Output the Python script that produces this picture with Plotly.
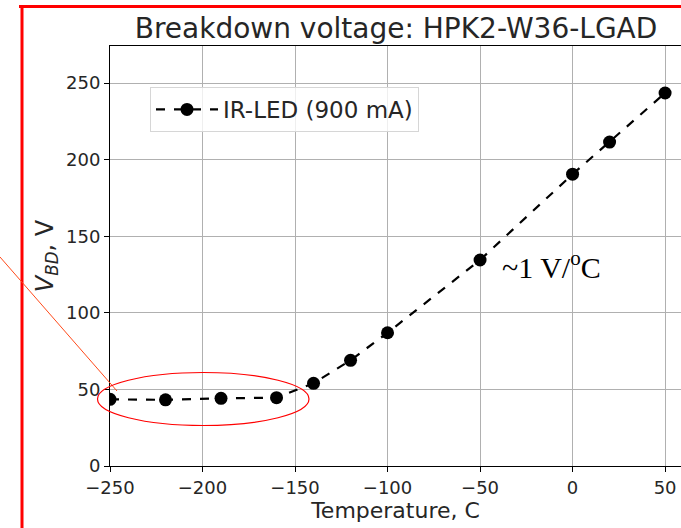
import plotly.graph_objects as go

temperature = [-250, -220, -190, -160, -140, -120, -100, -50, 0, 20, 50]
vbd = [43.5, 43.2, 44.2, 44.6, 54.0, 69.0, 87.0, 134.5, 190.5, 211.5, 243.5]
series_name = "IR-LED (900 mA)"
x_ticks = [-250, -200, -150, -100, -50, 0, 50]
y_ticks = [0, 50, 100, 150, 200, 250]

W, H = 681, 528
L, R, T, B = 110, 0, 46, 62
pw, ph = W - L - R, H - T - B

def px(x):
    return (x - L) / pw

def py(y):
    return (H - B - y) / ph

fig = go.Figure()
fig.add_trace(go.Scatter(
    x=temperature, y=vbd, mode="lines+markers", name=series_name,
    line=dict(color="black", width=2.2, dash="dash"),
    marker=dict(color="black", size=13),
))

font = "DejaVu Sans, Arial, sans-serif"
fig.update_layout(
    width=W, height=H,
    margin=dict(l=L, r=R, t=T, b=B),
    paper_bgcolor="white", plot_bgcolor="white",
    font=dict(family=font, color="#262626", size=18),
    title=dict(text="Breakdown voltage: HPK2-W36-LGAD", x=396 / W, xanchor="center",
               y=1 - 28 / H, yanchor="middle", font=dict(size=28, color="#262626")),
    showlegend=True,
    legend=dict(x=px(150), y=py(87), xanchor="left", yanchor="top",
                bgcolor="rgba(255,255,255,0.8)", bordercolor="#d6d6d6", borderwidth=1,
                font=dict(size=23), itemwidth=62),
    xaxis=dict(range=[-250, 58.6], tickvals=x_ticks, ticktext=[("\u2212" + str(-v)) if v < 0 else str(v) for v in x_ticks],
               showgrid=True, gridcolor="#b0b0b0", gridwidth=1,
               showline=True, linecolor="black", linewidth=1, mirror=True,
               ticks="outside", ticklen=5, tickcolor="black", zeroline=False,
               title=dict(text="Temperature, C", font=dict(size=22), standoff=2)),
    yaxis=dict(range=[0, 274.2], tickvals=y_ticks,
               showgrid=True, gridcolor="#b0b0b0", gridwidth=1,
               showline=True, linecolor="black", linewidth=1,
               ticks="outside", ticklen=5, tickcolor="black", zeroline=False,
               title=dict(text="<i>V<sub>BD</sub></i>, V", font=dict(size=24), standoff=5)),
)

# annotation text
fig.add_annotation(x=px(500), y=py(265), xref="paper", yref="paper", xanchor="left", yanchor="middle",
                   text="~1 V/<sup>o</sup>C", showarrow=False,
                   font=dict(family="Liberation Serif, Times New Roman, serif", size=30, color="black"))

# red frame
fig.add_shape(type="line", xref="paper", yref="paper", x0=px(19), x1=px(W + 2), y0=py(6.5), y1=py(6.5),
              line=dict(color="red", width=3))
fig.add_shape(type="line", xref="paper", yref="paper", x0=px(22), x1=px(22), y0=py(5), y1=py(H + 2),
              line=dict(color="red", width=3))
# pointer line
fig.add_shape(type="line", xref="paper", yref="paper", x0=px(0), x1=px(117), y0=py(257), y1=py(391),
              line=dict(color="#ff4a1a", width=1))
# ellipse
fig.add_shape(type="circle", xref="paper", yref="paper", x0=px(97.5), x1=px(309), y0=py(372.5), y1=py(425.5),
              line=dict(color="red", width=1.2))

fig.write_html("out.html")
